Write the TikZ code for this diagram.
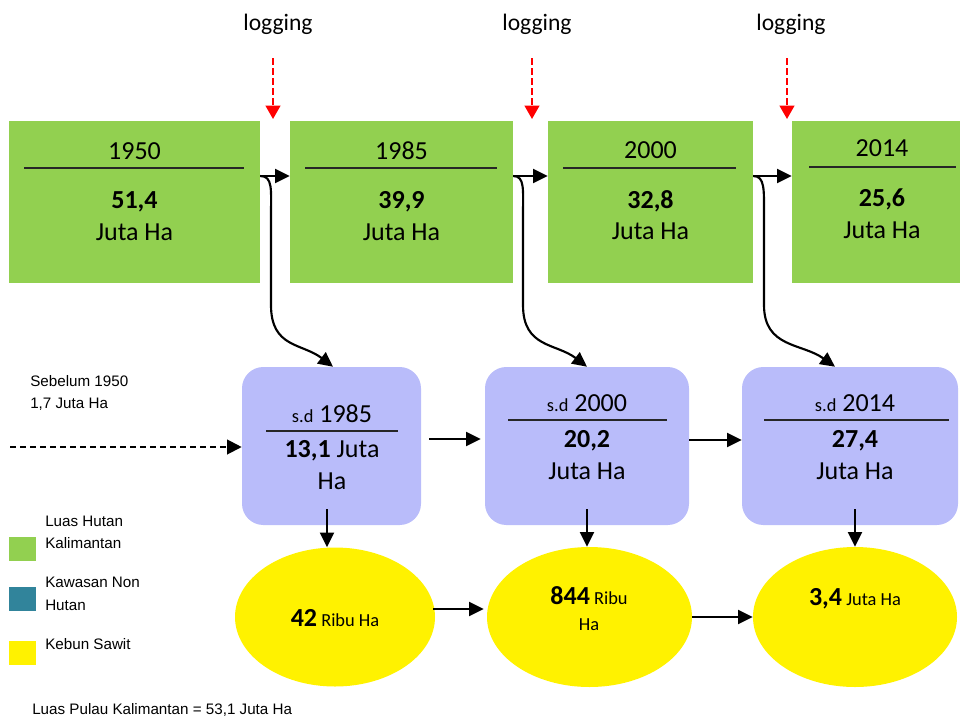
\documentclass[tikz,border=0pt]{standalone}
\usepackage{fontspec}
\setmainfont{Carlito}
\newfontfamily\arialf{Liberation Sans}
\usetikzlibrary{arrows.meta,calc,shapes.geometric}
\definecolor{gbox}{HTML}{92D050}
\definecolor{pbox}{RGB}{185,188,250}
\definecolor{tealc}{HTML}{31849B}
\newcommand\szBig{\fontsize{19.5pt}{23pt}\selectfont}
\newcommand\szMid{\fontsize{13.8pt}{16pt}\selectfont}
\newcommand\szLog{\fontsize{17.7pt}{20pt}\selectfont}
\newcommand\szAr{\arialf\fontsize{11.4pt}{14pt}\selectfont}
\begin{document}
\begin{tikzpicture}[x=0.75pt,y=-0.75pt,
  greenbox/.style={rectangle,fill=gbox,draw=none,minimum height=121.5pt,inner sep=0pt},
  purplebox/.style={rectangle,rounded corners=16pt,fill=pbox,draw=none,minimum height=118.5pt,inner sep=0pt},
  sawit/.style={ellipse,fill=yellow,draw=none,inner sep=0pt},
  txt/.style={inner sep=0pt,anchor=base,font=\szBig},
  logtxt/.style={inner sep=0pt,anchor=base,font=\szLog},
  artxt/.style={inner sep=0pt,anchor=base west,font=\szAr},
  legbox/.style={rectangle,draw=none,minimum width=20.25pt,minimum height=18pt,inner sep=0pt},
  sepline/.style={line width=0.8pt,black!85},
  arr/.style={line width=1.6pt,-{Triangle[length=11pt,width=10.5pt]}},
  redarr/.style={line width=1.5pt,red,dash pattern=on 5pt off 2.5pt,-{Triangle[length=10pt,width=11pt]}},
  dasharr/.style={line width=1.5pt,dash pattern=on 4.5pt off 3pt,-{Triangle[length=11pt,width=11pt]}}
]
\useasboundingbox (0,0) rectangle (960,718);

% green boxes
\node[greenbox,minimum width=188.25pt] (g1) at (134.5,202) {};
\node[greenbox,minimum width=167.25pt] (g2) at (401.5,202) {};
\node[greenbox,minimum width=153.75pt] (g3) at (650.5,202) {};
\node[greenbox,minimum width=126pt]    (g4) at (876,202) {};

\draw[sepline] (24,168) -- (244,168);
\draw[sepline] (305,168) -- (497,168);
\draw[sepline] (563,168) -- (736,168);
\draw[sepline] (809,167) -- (956,167);

\node[txt] (g1y) at (134.5,159) {1950};
\node[txt] (g1v) at (134.5,208) {\bfseries 51,4};
\node[txt] (g1u) at (134.5,240) {Juta Ha};
\node[txt] (g2y) at (401.5,159) {1985};
\node[txt] (g2v) at (401.5,208) {\bfseries 39,9};
\node[txt] (g2u) at (401.5,240) {Juta Ha};
\node[txt] (g3y) at (650.5,158) {2000};
\node[txt] (g3v) at (650.5,208) {\bfseries 32,8};
\node[txt] (g3u) at (650.5,239) {Juta Ha};
\node[txt] (g4y) at (882,156) {2014};
\node[txt] (g4v) at (882,206) {\bfseries 25,6};
\node[txt] (g4u) at (882,238) {Juta Ha};

% logging
\node[logtxt] (log1) at (278,30) {logging};
\node[logtxt] (log2) at (537,30) {logging};
\node[logtxt] (log3) at (791,30) {logging};
\coordinate (r1a) at (273,58);  \coordinate (r1b) at (273,119);
\coordinate (r2a) at (532,58);  \coordinate (r2b) at (532,119);
\coordinate (r3a) at (787,58);  \coordinate (r3b) at (787,119);
\draw[redarr] (r1a) -- (r1b);
\draw[redarr] (r2a) -- (r2b);
\draw[redarr] (r3a) -- (r3b);

% purple boxes
\node[purplebox,minimum width=134.25pt] (p1) at (331.5,446) {};
\node[purplebox,minimum width=153pt]    (p2) at (587,446) {};
\node[purplebox,minimum width=162pt]    (p3) at (850,446) {};

\draw[sepline] (266,431) -- (398,431);
\draw[sepline] (508,420) -- (667,420);
\draw[sepline] (764,420) -- (949,420);

\node[txt] (p1y) at (332,422) {{\szMid s.d} 1985};
\node[txt] (p1v) at (332,457) {{\bfseries 13,1} Juta};
\node[txt] (p1u) at (332,489) {Ha};
\node[txt] (p2y) at (587,411) {{\szMid s.d} 2000};
\node[txt] (p2v) at (587,447) {\bfseries 20,2};
\node[txt] (p2u) at (587,479) {Juta Ha};
\node[txt] (p3y) at (855,411) {{\szMid s.d} 2014};
\node[txt] (p3v) at (855,447) {\bfseries 27,4};
\node[txt] (p3u) at (855,479) {Juta Ha};

% ellipses
\node[sawit,minimum width=150pt,minimum height=104.25pt] (e1) at (335,617) {};
\node[sawit,minimum width=153.75pt,minimum height=105pt] (e2) at (589.5,617) {};
\node[sawit,minimum width=153pt,minimum height=105pt] (e3) at (855,617) {};

\node[txt] (e1t) at (335,626) {{\bfseries 42}{\szMid\ Ribu Ha}};
\node[txt] (e2t) at (589,604) {{\bfseries 844}{\szMid\ Ribu}};
\node[txt,font=\szMid] (e2u) at (589,630) {Ha};
\node[txt] (e3t) at (855,605) {{\bfseries 3,4}{\szMid\ Juta Ha}};

% green row arrows
\draw[arr] (g1.east |- 0,176) -- (g2.west |- 0,176);
\draw[arr] (g2.east |- 0,176) -- (g3.west |- 0,176);
\draw[arr] (g3.east |- 0,176) -- (g4.west |- 0,176);

% curved arrows down
\draw[arr] (g1.east |- 0,176) .. controls (273,176) and (271,190) .. (271,215) -- (271,305)
   .. controls (271,348) and (302,343) .. (p1.north -| 333,0);
\draw[arr] (g2.east |- 0,176) .. controls (525,176) and (523,190) .. (523,215) -- (523,305)
   .. controls (523,348) and (556,343) .. (p2.north -| 587,0);
\draw[arr] (g3.east |- 0,176) .. controls (765,176) and (764,190) .. (764,215) -- (764,305)
   .. controls (764,348) and (802,343) .. (p3.north -| 835,0);

% purple row arrows
\coordinate (dstart) at (10,447);
\draw[dasharr] (dstart) -- (p1.west |- 0,447);
\draw[arr] ($(p1.east |- 0,439)+(8,0)$) -- ($(p2.west |- 0,439)+(-4,0)$);
\draw[arr] (p2.east |- 0,440) -- (p3.west |- 0,440);

% down arrows
\draw[arr] ($(p1.south -| 327,0)+(0,-16)$) -- (e1.north -| 327,0);
\draw[arr] ($(p2.south -| 587,0)+(0,-16)$) -- (e2.north -| 587,0);
\draw[arr] ($(p3.south -| 855,0)+(0,-16)$) -- (e3.north -| 855,0);

% ellipse arrows
\draw[arr] ($(e1.east |- 0,609)+(-2,0)$) -- ($(e2.west |- 0,609)+(-3,0)$);
\draw[arr] (e2.east) -- (e3.west);

% left texts
\node[artxt] (seb1) at (30,386) {Sebelum 1950};
\node[artxt] (seb2) at (30,408) {1,7 Juta Ha};

% legend
\node[legbox,fill=gbox]  (lg1) at (22.5,549) {};
\node[legbox,fill=tealc] (lg2) at (22.5,599) {};
\node[legbox,fill=yellow](lg3) at (22.5,652.5) {};
\node[artxt] (lt1a) at (45,526) {Luas Hutan};
\node[artxt] (lt1b) at (45,548) {Kalimantan};
\node[artxt] (lt2a) at (45,587) {Kawasan Non};
\node[artxt] (lt2b) at (45,610) {Hutan};
\node[artxt] (lt3)  at (45,649) {Kebun Sawit};
\node[artxt] (luas) at (32,714) {Luas Pulau Kalimantan = 53,1 Juta Ha};
\end{tikzpicture}
\end{document}
